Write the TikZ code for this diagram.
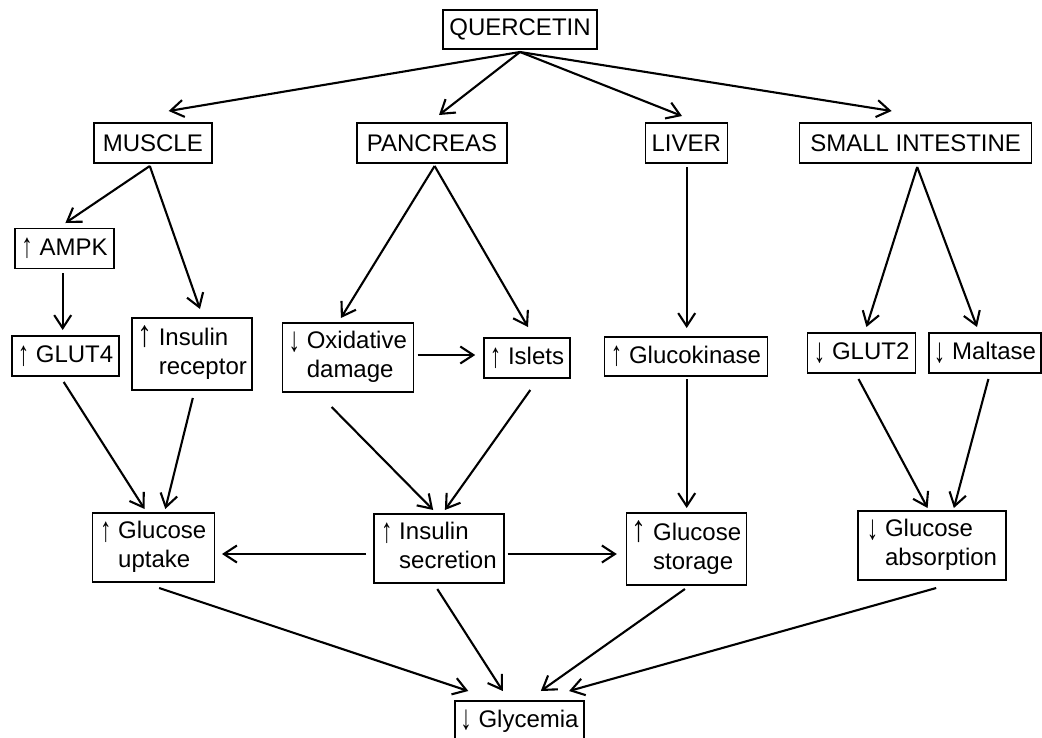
\documentclass[tikz,border=0pt]{standalone}
\usepackage{fontspec}
\usepackage{graphicx}
\setmainfont{Liberation Sans}
\usetikzlibrary{arrows.meta}
\newcommand\twol[3]{\begin{tabular}{@{}l@{ }l@{}}#1&#2\\&#3\end{tabular}}
\newcommand\smup{\raisebox{-2.5pt}{\scalebox{0.95}[1.45]{↑}}}
\newcommand\smdn{\raisebox{-2.5pt}{\scalebox{0.95}[1.45]{↓}}}
\newcommand\bigup{\raisebox{-1.5pt}{\scalebox{1.25}[1.55]{\textbf{↑}}}}
\begin{document}
\begin{tikzpicture}[x=1pt,y=-1pt,
  box/.style={draw, line width=1.4pt, inner sep=0pt, font=\fontsize{24}{29}\selectfont, align=center},
  conn/.style={line width=2.1pt, -{Straight Barb[length=13pt,width=17pt,line width=2.1pt]}}]
\useasboundingbox[fill=white] (0,0) rectangle (1042,737);
% nodes
\node[box,minimum width=154pt,minimum height=39pt] (Q) at (520,29.5) {QUERCETIN};
\node[box,minimum width=118pt,minimum height=40pt] (MU) at (152.8,143) {MUSCLE};
\node[box,minimum width=150pt,minimum height=40pt] (PA) at (432,143) {PANCREAS};
\node[box,minimum width=82pt,minimum height=40pt] (LI) at (686.2,143) {LIVER};
\node[box,minimum width=232pt,minimum height=40pt] (SI) at (915.6,143) {SMALL INTESTINE};
\node[box,minimum width=99pt,minimum height=40pt] (AM) at (64.5,248.5) {\smup{} AMPK};
\node[box,minimum width=107pt,minimum height=40pt] (G4) at (65.5,356) {\smup{} GLUT4};
\node[box,minimum width=120pt,minimum height=72pt] (IR) at (192,354) {\twol{\bigup}{Insulin}{receptor}};
\node[box,minimum width=131pt,minimum height=69pt] (OX) at (347.8,357.5) {\twol{\smdn}{Oxidative}{damage}};
\node[box,minimum width=86pt,minimum height=40pt] (IS) at (527,358) {\smup{} Islets};
\node[box,minimum width=163.5pt,minimum height=39pt] (GK) at (686,356.5) {\smup{} Glucokinase};
\node[box,minimum width=108pt,minimum height=40pt] (G2) at (861.7,353) {\smdn{} GLUT2};
\node[box,minimum width=112pt,minimum height=40pt] (MA) at (985,353) {\smdn{} Maltase};
\node[box,minimum width=122pt,minimum height=69pt] (UP) at (153.2,547.5) {\twol{\smup}{Glucose}{uptake}};
\node[box,minimum width=130pt,minimum height=69pt] (SE) at (438.9,548.5) {\twol{\smup}{Insulin}{secretion}};
\node[box,minimum width=120pt,minimum height=72pt] (ST) at (686.3,549) {\twol{\bigup}{Glucose}{storage}};
\node[box,minimum width=148pt,minimum height=69pt] (AB) at (932,545.5) {\twol{\smdn}{Glucose}{absorption}};
\node[box,minimum width=129pt,minimum height=40pt] (GL) at (519.5,721) {\smdn{} Glycemia};
% connectors
\draw[conn] ([shift={(0,22.5)}]Q.center) -- ([shift={(15.9,-32)}]MU.center);
\draw[conn] ([shift={(0,22.5)}]Q.center) -- ([shift={(7,-28)}]PA.center);
\draw[conn] ([shift={(0,22.5)}]Q.center) -- ([shift={(-4.2,-27)}]LI.center);
\draw[conn] ([shift={(0,22.5)}]Q.center) -- ([shift={(-24,-32)}]SI.center);
\draw[conn] ([shift={(-3,23)}]MU.center) -- ([shift={(0.9,-25.5)}]AM.center);
\draw[conn] ([shift={(-3,23)}]MU.center) -- ([shift={(8,-45)}]IR.center);
\draw[conn] ([shift={(-1.8,24.5)}]AM.center) -- ([shift={(-2.8,-26)}]G4.center);
\draw[conn] ([shift={(2.6,23)}]PA.center) -- ([shift={(-6.9,-39.5)}]OX.center);
\draw[conn] ([shift={(2.6,23)}]PA.center) -- ([shift={(1,-31)}]IS.center);
\draw[conn] ([shift={(0.5,24)}]LI.center) -- ([shift={(0.7,-28.5)}]GK.center);
\draw[conn] ([shift={(1.6,24)}]SI.center) -- ([shift={(4.7,-26)}]G2.center);
\draw[conn] ([shift={(1.6,24)}]SI.center) -- ([shift={(-8,-26)}]MA.center);
\draw[conn] ([shift={(69.9,-2.5)}]OX.center) -- ([shift={(-51.8,-3)}]IS.center);
\draw[conn] ([shift={(-1.8,26)}]G4.center) -- ([shift={(-8.6,-38.5)}]UP.center);
\draw[conn] ([shift={(0.8,44)}]IR.center) -- ([shift={(12.1,-38.5)}]UP.center);
\draw[conn] ([shift={(-16.2,49.5)}]OX.center) -- ([shift={(-5.7,-38.5)}]SE.center);
\draw[conn] ([shift={(3.3,32)}]IS.center) -- ([shift={(6,-38.5)}]SE.center);
\draw[conn] ([shift={(0.7,22.5)}]GK.center) -- ([shift={(0.4,-41)}]ST.center);
\draw[conn] ([shift={(-3.2,26)}]G2.center) -- ([shift={(-4.4,-37.5)}]AB.center);
\draw[conn] ([shift={(3.4,26)}]MA.center) -- ([shift={(21.9,-37.5)}]AB.center);
\draw[conn] ([shift={(-72.9,5.5)}]SE.center) -- ([shift={(68.8,6.5)}]UP.center);
\draw[conn] ([shift={(68.7,5.5)}]SE.center) -- ([shift={(-69.5,5)}]ST.center);
\draw[conn] ([shift={(5.9,40.5)}]UP.center) -- ([shift={(-51.2,-30)}]GL.center);
\draw[conn] ([shift={(-1.6,40.5)}]SE.center) -- ([shift={(-16.7,-30)}]GL.center);
\draw[conn] ([shift={(-1.4,40)}]ST.center) -- ([shift={(21.3,-30)}]GL.center);
\draw[conn] ([shift={(4.2,42.5)}]AB.center) -- ([shift={(49.6,-30)}]GL.center);
\end{tikzpicture}
\end{document}
